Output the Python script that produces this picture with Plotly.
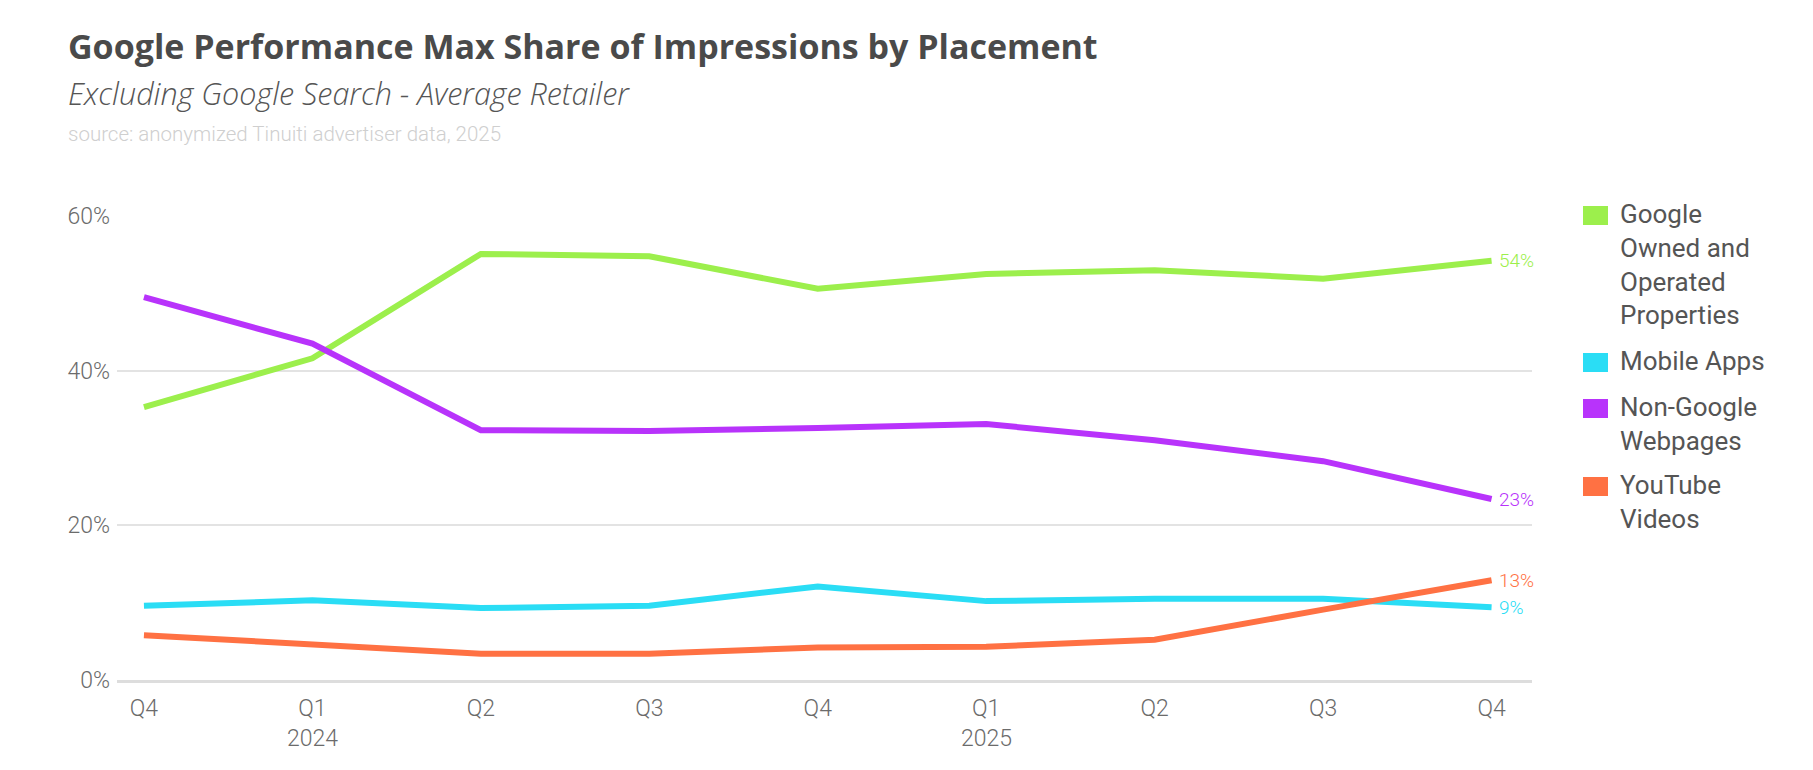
import plotly.graph_objects as go

quarters = ["Q4", "Q1", "Q2", "Q3", "Q4", "Q1", "Q2", "Q3", "Q4"]
years = {1: "2024", 5: "2025"}
series_names = [
    "Google<br>Owned and<br>Operated<br>Properties",
    "Mobile Apps",
    "Non-Google<br>Webpages",
    "YouTube<br>Videos",
]
google_owned = [35.3, 41.6, 55.1, 54.8, 50.6, 52.5, 53.0, 51.9, 54.2]
mobile_apps = [9.6, 10.3, 9.3, 9.6, 12.1, 10.2, 10.5, 10.5, 9.4]
non_google = [49.5, 43.5, 32.3, 32.2, 32.6, 33.1, 31.0, 28.3, 23.4]
youtube = [5.8, 4.6, 3.4, 3.4, 4.2, 4.3, 5.2, 9.1, 12.9]
colors = ["#9CEF4C", "#2ADDF5", "#B833FB", "#FF7143"]
values = [google_owned, mobile_apps, non_google, youtube]
yticks = [0, 20, 40, 60]

x = list(range(len(quarters)))

# target page coordinates (page body has an 8px margin)
OFF = 8
W, H = 1813, 770
L, R, T, B = 117, 1532, 216, 680  # plot area in page pixels

def px(xp):
    return (xp - L) / (R - L)

def py(yp):
    return (B - yp) / (B - T)

fig = go.Figure()
for name, vals, col in zip(series_names, values, colors):
    fig.add_trace(go.Scatter(x=x, y=vals, mode="lines", name=name,
                             line=dict(color=col, width=6), showlegend=False,
                             hoverinfo="skip"))
    fig.add_annotation(x=x[-1], y=vals[-1], xref="x", yref="y",
                       text=f"{round(vals[-1])}%", showarrow=False,
                       xanchor="left", xshift=5,
                       font=dict(family="Roboto", size=19, color=col, weight=300))

tickfont = dict(family="Roboto", size=23, color="#6b6b6b", weight=300)

# year labels
for i, yr in years.items():
    fig.add_annotation(x=i, y=py(738), xref="x", yref="paper", text=yr,
                       showarrow=False, yanchor="middle", font=tickfont)

# titles
fig.add_annotation(x=px(66), y=py(46), xref="paper", yref="paper",
                   text="<b>Google Performance Max Share of Impressions by Placement</b>",
                   showarrow=False, xanchor="left", yanchor="middle",
                   font=dict(family="Open Sans", size=34, color="#4a4a4a"))
fig.add_annotation(x=px(66), y=py(93), xref="paper", yref="paper",
                   text="<i>Excluding Google Search - Average Retailer</i>",
                   showarrow=False, xanchor="left", yanchor="middle",
                   font=dict(family="Open Sans", size=30.5, color="#555555", weight=300))
fig.add_annotation(x=px(66), y=py(134), xref="paper", yref="paper",
                   text="source: anonymized Tinuiti advertiser data, 2025",
                   showarrow=False, xanchor="left", yanchor="middle",
                   font=dict(family="Roboto", size=20.5, color="#cfcfcf", weight=300))

# manual legend
legend_rows = [215, 362, 408, 486]
for name, col, yc in zip(series_names, colors, legend_rows):
    fig.add_shape(type="rect", xref="paper", yref="paper",
                  x0=px(1583), x1=px(1608), y0=py(yc + 10), y1=py(yc - 9),
                  fillcolor=col, line=dict(width=0))
    fig.add_annotation(x=px(1618), y=py(yc - 18), xref="paper", yref="paper",
                       text=name, showarrow=False, xanchor="left", yanchor="top",
                       align="left",
                       font=dict(family="Roboto", size=26, color="#555555"))

fig.update_layout(
    width=W, height=H,
    margin=dict(l=L - OFF, r=W - (R - OFF), t=T - OFF, b=H - (B - OFF)),
    plot_bgcolor="white", paper_bgcolor="white",
    xaxis=dict(range=[-0.16, 8.24], tickmode="array", tickvals=x, ticktext=quarters,
               showgrid=False, zeroline=False, showline=True, linecolor="#dddddd",
               linewidth=3, ticks="", ticklabelstandoff=5,
               tickfont=tickfont, fixedrange=True),
    yaxis=dict(range=[0, 60], tickmode="array", tickvals=yticks,
               ticktext=[f"{v}%" for v in yticks], showgrid=True,
               gridcolor="#e3e3e3", gridwidth=1.5, zeroline=False, ticks="",
               ticklabelstandoff=6, tickfont=tickfont, fixedrange=True),
    showlegend=False,
)

fig.write_html("out.html")
